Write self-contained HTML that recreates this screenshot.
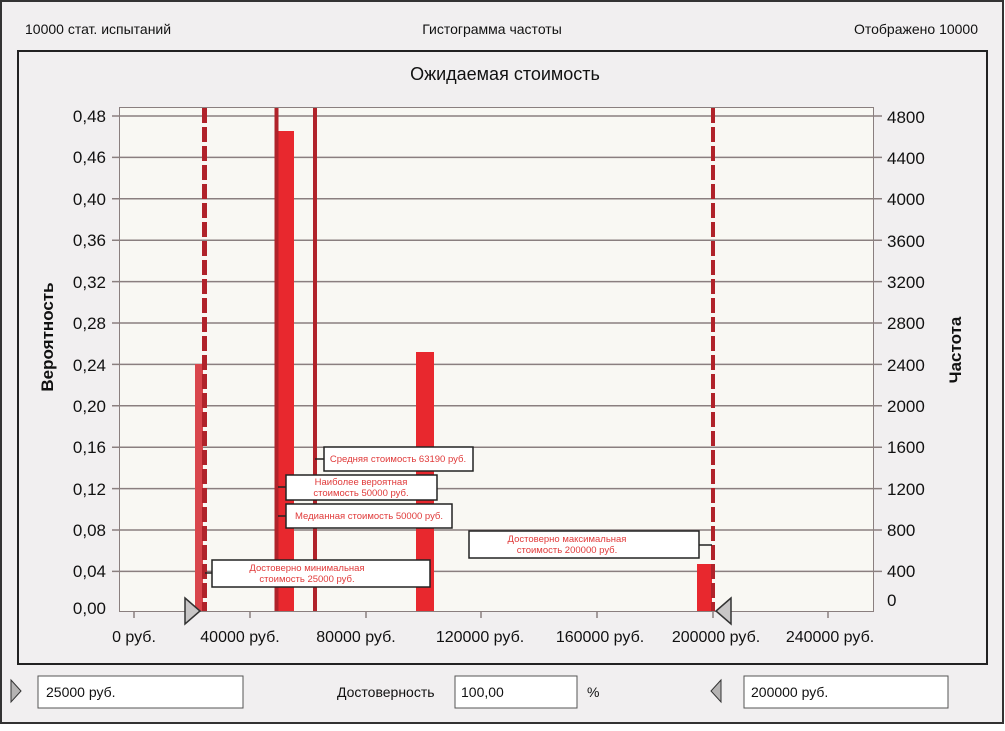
<!DOCTYPE html><html><head><meta charset="utf-8"><style>
body{margin:0;background:#fff;font-family:"Liberation Sans",sans-serif;}
</style></head><body>
<svg width="1005" height="726" xmlns="http://www.w3.org/2000/svg" font-family="Liberation Sans, sans-serif">
<rect x="1" y="1" width="1002" height="722" fill="#f1eff0" stroke="#333" stroke-width="2"/>
<text x="25" y="34" font-size="14" fill="#111">10000 стат. испытаний</text>
<text x="492" y="34" font-size="14" fill="#111" text-anchor="middle">Гистограмма частоты</text>
<text x="978" y="34" font-size="14" fill="#111" text-anchor="end">Отображено 10000</text>
<rect x="18" y="51" width="969" height="613" fill="#f1eff0" stroke="#222" stroke-width="2"/>
<text x="505" y="80" font-size="18" fill="#111" text-anchor="middle">Ожидаемая стоимость</text>
<rect x="119.5" y="107.5" width="754" height="504" fill="#f9f8f3" stroke="#8a7f7f"/>
<g stroke="#8a7f7f" stroke-width="1.5">
<line x1="112" x2="882" y1="116" y2="116"/><line x1="112" x2="882" y1="157.4" y2="157.4"/><line x1="112" x2="882" y1="198.8" y2="198.8"/><line x1="112" x2="882" y1="240.2" y2="240.2"/><line x1="112" x2="882" y1="281.6" y2="281.6"/><line x1="112" x2="882" y1="323" y2="323"/><line x1="112" x2="882" y1="364.4" y2="364.4"/><line x1="112" x2="882" y1="405.8" y2="405.8"/><line x1="112" x2="882" y1="447.2" y2="447.2"/><line x1="112" x2="882" y1="488.6" y2="488.6"/><line x1="112" x2="882" y1="530" y2="530"/><line x1="112" x2="882" y1="571.4" y2="571.4"/>
<line x1="134" x2="134" y1="611" y2="618"/><line x1="250" x2="250" y1="611" y2="618"/><line x1="366" x2="366" y1="611" y2="618"/><line x1="481" x2="481" y1="611" y2="618"/><line x1="597" x2="597" y1="611" y2="618"/><line x1="713" x2="713" y1="611" y2="618"/><line x1="828" x2="828" y1="611" y2="618"/>
</g>
<g font-size="17" fill="#111" text-anchor="end">
<text x="106" y="122">0,48</text><text x="106" y="163">0,46</text><text x="106" y="205">0,40</text><text x="106" y="246">0,36</text><text x="106" y="288">0,32</text><text x="106" y="329">0,28</text><text x="106" y="371">0,24</text><text x="106" y="412">0,20</text><text x="106" y="453">0,16</text><text x="106" y="495">0,12</text><text x="106" y="536">0,08</text><text x="106" y="577">0,04</text><text x="106" y="614">0,00</text>
</g>
<g font-size="17" fill="#111">
<text x="887" y="123">4800</text><text x="887" y="164">4400</text><text x="887" y="205">4000</text><text x="887" y="247">3600</text><text x="887" y="288">3200</text><text x="887" y="329">2800</text><text x="887" y="371">2400</text><text x="887" y="412">2000</text><text x="887" y="453">1600</text><text x="887" y="495">1200</text><text x="887" y="536">800</text><text x="887" y="577">400</text><text x="887" y="606">0</text>
</g>
<g font-size="16" fill="#111" text-anchor="middle">
<text x="134" y="642">0 руб.</text><text x="240" y="642">40000 руб.</text><text x="356" y="642">80000 руб.</text><text x="480" y="642">120000 руб.</text><text x="600" y="642">160000 руб.</text><text x="716" y="642">200000 руб.</text><text x="830" y="642">240000 руб.</text>
</g>
<text transform="translate(53,337) rotate(-90)" font-size="17" font-weight="bold" fill="#111" text-anchor="middle">Вероятность</text>
<text transform="translate(961,350) rotate(-90)" font-size="17" font-weight="bold" fill="#111" text-anchor="middle">Частота</text>
<rect x="195" y="364" width="8" height="247" fill="#d9464c"/>
<rect x="278" y="131" width="16" height="480" fill="#e8282e"/>
<rect x="416" y="352" width="18" height="259" fill="#e8282e"/>
<rect x="697" y="564" width="15" height="47" fill="#e8282e"/>
<line x1="204.5" x2="204.5" y1="108" y2="611" stroke="#b0232a" stroke-width="5" stroke-dasharray="15,4"/>
<line x1="713" x2="713" y1="108" y2="611" stroke="#b0232a" stroke-width="4" stroke-dasharray="15,4"/>
<line x1="276.5" x2="276.5" y1="108" y2="611" stroke="#b0232a" stroke-width="4"/>
<line x1="315" x2="315" y1="108" y2="611" stroke="#b0232a" stroke-width="4"/>
<g stroke="#222" stroke-width="1.5" fill="#fff">
<line x1="315" x2="324" y1="459" y2="459"/><rect x="324" y="447" width="149" height="24"/>
<line x1="278" x2="286" y1="487" y2="487"/><rect x="286" y="475" width="151" height="25"/>
<line x1="278" x2="286" y1="516" y2="516"/><rect x="286" y="504" width="166" height="24"/>
<line x1="205" x2="212" y1="573" y2="573"/><rect x="212" y="560" width="218" height="27"/>
<line x1="699" x2="712" y1="545" y2="545"/><rect x="469" y="531" width="230" height="27"/>
</g>
<g font-size="9.5" fill="#e03a3a" text-anchor="middle">
<text x="398" y="462">Средняя стоимость 63190 руб.</text>
<text x="361" y="485">Наиболее вероятная</text><text x="361" y="496">стоимость 50000 руб.</text>
<text x="369" y="519">Медианная стоимость 50000 руб.</text>
<text x="307" y="571">Достоверно минимальная</text><text x="307" y="582">стоимость 25000 руб.</text>
<text x="567" y="542">Достоверно максимальная</text><text x="567" y="553">стоимость 200000 руб.</text>
</g>
<polygon points="185,598 200,611 185,624" fill="#c8c6c6" stroke="#333" stroke-width="1.5"/>
<polygon points="731,598 716,611 731,624" fill="#c8c6c6" stroke="#333" stroke-width="1.5"/>
<polygon points="11,680 21,691 11,702" fill="#b5b3b3" stroke="#333"/>
<polygon points="721,680 711,691 721,702" fill="#b5b3b3" stroke="#333"/>
<rect x="38" y="676" width="205" height="32" fill="#fff" stroke="#555"/>
<rect x="455" y="676" width="122" height="32" fill="#fff" stroke="#555"/>
<rect x="744" y="676" width="204" height="32" fill="#fff" stroke="#555"/>
<g font-size="14" fill="#111">
<text x="46" y="697">25000 руб.</text>
<text x="337" y="697">Достоверность</text>
<text x="461" y="697">100,00</text>
<text x="587" y="697">%</text>
<text x="751" y="697">200000 руб.</text>
</g>
</svg>
</body></html>
